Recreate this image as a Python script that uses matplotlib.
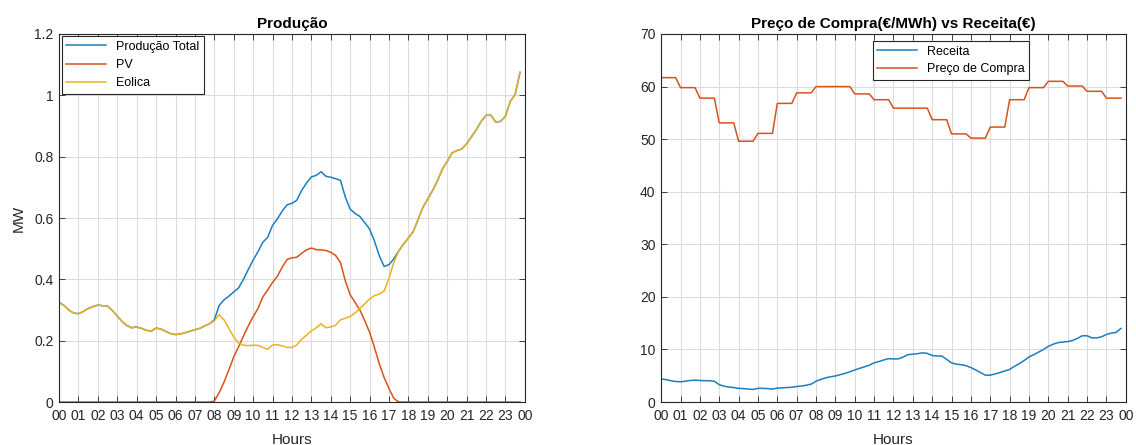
import numpy as np
import matplotlib
matplotlib.use('Agg')
import matplotlib.pyplot as plt

plt.rcParams['font.family'] = ['Liberation Sans', 'DejaVu Sans']

# 15-minute samples, 00:00 .. 23:45
eolica = [0.325, 0.315, 0.300, 0.290, 0.288, 0.295, 0.305, 0.311,
          0.316, 0.314, 0.313, 0.298, 0.280, 0.262, 0.249, 0.242,
          0.245, 0.240, 0.234, 0.231, 0.241, 0.238, 0.230, 0.223,
          0.220, 0.222, 0.226, 0.231, 0.236, 0.240, 0.248, 0.255,
          0.265, 0.285, 0.268, 0.240, 0.212, 0.192, 0.185, 0.184,
          0.185, 0.185, 0.178, 0.172, 0.186, 0.187, 0.183, 0.178,
          0.178, 0.186, 0.205, 0.218, 0.232, 0.242, 0.255, 0.242,
          0.245, 0.250, 0.268, 0.273, 0.279, 0.290, 0.305, 0.320,
          0.336, 0.347, 0.352, 0.362, 0.404, 0.455, 0.492, 0.515,
          0.535, 0.556, 0.595, 0.635, 0.662, 0.690, 0.722, 0.759,
          0.785, 0.812, 0.820, 0.825, 0.842, 0.865, 0.888, 0.915,
          0.935, 0.935, 0.913, 0.915, 0.932, 0.980, 1.003, 1.075]

pv = [0.0] * 32 + [0.003, 0.030, 0.065, 0.105, 0.147, 0.180, 0.215, 0.248,
                   0.278, 0.305, 0.343, 0.365, 0.390, 0.410, 0.440, 0.465,
                   0.470, 0.472, 0.485, 0.496, 0.502, 0.497, 0.496, 0.494,
                   0.488, 0.478, 0.455, 0.395, 0.350, 0.325, 0.300, 0.265,
                   0.228, 0.178, 0.125, 0.080, 0.044, 0.012, 0.0, 0.0] + [0.0] * 24

# hourly purchase price (EUR/MWh), held for each quarter of the hour
preco_hora = [61.7, 59.8, 57.8, 53.1, 49.6, 51.1, 56.8, 58.8, 60.0, 60.0, 58.6, 57.5,
              55.9, 55.9, 53.7, 51.0, 50.2, 52.3, 57.5, 59.8, 61.0, 60.1, 59.1, 57.8]

receita = [4.40, 4.25, 4.05, 3.90, 3.85, 3.95, 4.10, 4.15,
           4.10, 4.05, 4.05, 3.95, 3.30, 3.00, 2.85, 2.75,
           2.60, 2.55, 2.45, 2.40, 2.60, 2.60, 2.55, 2.45,
           2.65, 2.70, 2.75, 2.80, 2.95, 3.05, 3.20, 3.40,
           3.95, 4.30, 4.60, 4.80, 4.95, 5.20, 5.45, 5.75,
           6.10, 6.40, 6.70, 7.00, 7.45, 7.70, 8.00, 8.25,
           8.20, 8.20, 8.55, 9.00, 9.10, 9.20, 9.35, 9.25,
           8.85, 8.75, 8.75, 8.10, 7.45, 7.20, 7.10, 6.90,
           6.55, 6.10, 5.60, 5.10, 5.10, 5.35, 5.60, 5.90,
           6.20, 6.80, 7.30, 7.90, 8.55, 9.00, 9.50, 10.00,
           10.60, 11.00, 11.30, 11.40, 11.50, 11.70, 12.10, 12.60,
           12.60, 12.20, 12.20, 12.40, 12.85, 13.10, 13.25, 14.00]

hour_labels = ['%02d' % h for h in range(24)] + ['00']

t = np.arange(96) / 4.0
total = np.array(pv) + np.array(eolica)
preco = np.repeat(preco_hora, 4)

c_blue = '#1a7fc1'
c_orange = '#D95319'
c_yellow = '#EDB120'

fig = plt.figure(figsize=(11.36, 4.45), dpi=100)
ax1 = fig.add_axes([0.052, 0.0966, 0.410, 0.827])
ax2 = fig.add_axes([0.582, 0.0966, 0.409, 0.827])


def style(ax):
    ax.set_xlim(0, 24)
    ax.set_xticks(range(25))
    ax.set_xticklabels(hour_labels)
    ax.tick_params(direction='in', top=True, right=True, labelsize=10,
                   colors='#262626', length=4, width=0.6)
    ax.tick_params(axis='x', pad=5)
    ax.tick_params(axis='y', pad=4)
    ax.grid(True, color='#dcdcdc', linewidth=0.8)
    ax.set_axisbelow(True)
    for s in ax.spines.values():
        s.set_color('#262626')
        s.set_linewidth(0.8)
    ax.set_xlabel('Hours', fontsize=11, color='#262626', labelpad=7)


ax1.plot(t, total, color=c_blue, lw=1.1, label='Produção Total')
ax1.plot(t, pv, color=c_orange, lw=1.1, label='PV')
ax1.plot(t, eolica, color=c_yellow, lw=1.1, label='Eolica')
style(ax1)
ax1.set_ylim(0, 1.2)
ax1.set_yticks([0, 0.2, 0.4, 0.6, 0.8, 1.0, 1.2])
ax1.set_yticklabels(['0', '0.2', '0.4', '0.6', '0.8', '1', '1.2'])
ax1.set_ylabel('MW', fontsize=11, color='#262626', labelpad=6)
ax1.set_title('Produção', fontsize=11, fontweight='bold', pad=4)
leg1 = ax1.legend(loc='upper left', fontsize=9, fancybox=False, framealpha=1,
                  edgecolor='#262626', borderaxespad=0.2, handlelength=3.2,
                  labelspacing=0.5, borderpad=0.35)
leg1.get_frame().set_linewidth(0.8)

ax2.plot(t, receita, color=c_blue, lw=1.1, label='Receita')
ax2.plot(t, preco, color=c_orange, lw=1.1, label='Preço de Compra')
style(ax2)
ax2.set_ylim(0, 70)
ax2.set_yticks(range(0, 71, 10))
ax2.set_title('Preço de Compra(€/MWh) vs Receita(€)', fontsize=11,
              fontweight='bold', pad=4)
leg2 = ax2.legend(loc='upper left', bbox_to_anchor=(0.455, 0.98), fontsize=9,
                  fancybox=False, framealpha=1, edgecolor='#262626',
                  borderaxespad=0.0, handlelength=3.2, labelspacing=0.45,
                  borderpad=0.35)
leg2.get_frame().set_linewidth(0.8)

fig.savefig('out.png', dpi=100)
